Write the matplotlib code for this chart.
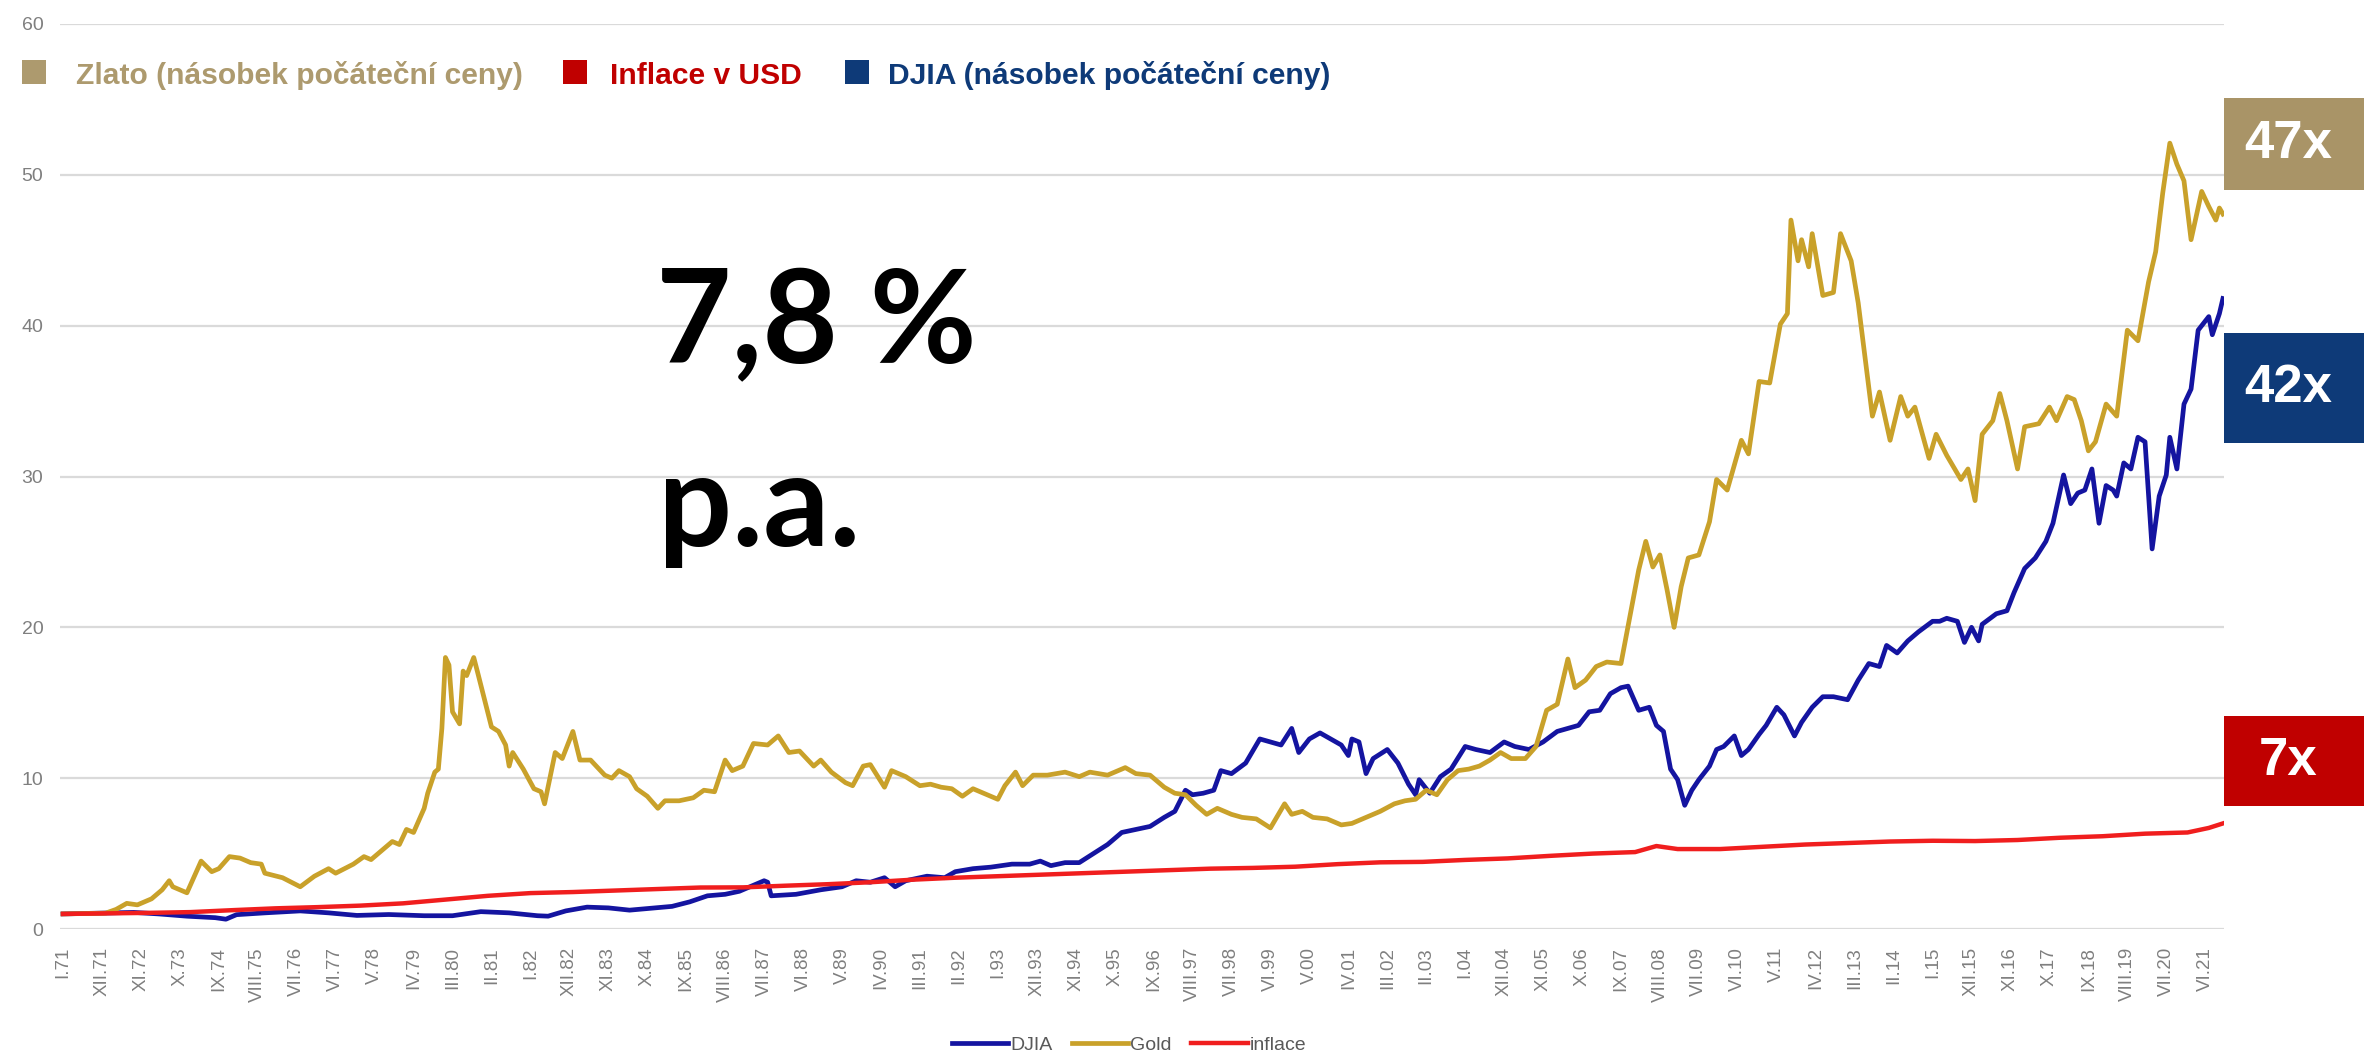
import numpy as np
import matplotlib.pyplot as plt
from matplotlib.patches import Rectangle

plt.rcParams['font.family'] = ['Liberation Sans', 'DejaVu Sans']

# months counted from I.1971, values = multiple of the starting price
gold_month = [
    0, 12, 15, 18, 21, 25, 28, 30, 31, 35,
    39, 42, 44, 47, 50, 53, 56, 57, 62, 67,
    71, 75, 77, 82, 85, 87, 90, 93, 95, 97,
    99, 102, 103, 105, 106, 107, 108, 109, 110, 112,
    113, 114, 116, 117, 121, 123, 125, 126, 127, 130,
    133, 135, 136, 139, 141, 144, 146, 149, 153, 155,
    157, 160, 162, 165, 168, 170, 174, 178, 181, 184,
    187, 189, 192, 195, 199, 202, 205, 208, 212, 214,
    217, 221, 223, 226, 228, 232, 234, 238, 242, 245,
    248, 251, 254, 257, 260, 264, 266, 269, 271, 274,
    278, 283, 287, 290, 295, 300, 303, 307, 311, 314,
    317, 320, 323, 326, 330, 333, 337, 341, 345, 347,
    350, 353, 357, 361, 364, 368, 372, 376, 379, 382,
    385, 388, 391, 394, 397, 400, 403, 406, 409, 413,
    416, 419, 422, 425, 427, 430, 433, 436, 440, 443,
    445, 447, 449, 451, 453, 455, 457, 459, 462, 465,
    467, 470, 474, 476, 479, 482, 485, 487, 488, 490,
    491, 493, 494, 497, 500, 502, 505, 507, 511, 513,
    516, 519, 521, 523, 527, 529, 532, 536, 538, 540,
    542, 545, 547, 549, 552, 554, 558, 561, 563, 566,
    568, 570, 572, 574, 577, 580, 583, 586, 589, 591,
    593, 595, 597, 599, 601, 604, 606, 608, 609, 610,
]
gold_value = [
    1.0, 1.05, 1.3, 1.7, 1.6, 2.0, 2.6, 3.2, 2.8, 2.4,
    4.5, 3.8, 4.0, 4.8, 4.7, 4.4, 4.3, 3.7, 3.4, 2.8,
    3.5, 4.0, 3.7, 4.3, 4.8, 4.6, 5.2, 5.8, 5.6, 6.6,
    6.4, 8.0, 9.0, 10.4, 10.6, 13.3, 18.0, 17.5, 14.4, 13.6,
    17.1, 16.8, 18.0, 17.1, 13.4, 13.1, 12.2, 10.8, 11.7, 10.6,
    9.3, 9.1, 8.3, 11.7, 11.3, 13.1, 11.2, 11.2, 10.2, 10.0,
    10.5, 10.1, 9.3, 8.8, 8.0, 8.5, 8.5, 8.7, 9.2, 9.1,
    11.2, 10.5, 10.8, 12.3, 12.2, 12.8, 11.7, 11.8, 10.8, 11.2,
    10.4, 9.7, 9.5, 10.8, 10.9, 9.4, 10.5, 10.1, 9.5, 9.6,
    9.4, 9.3, 8.8, 9.3, 9.0, 8.6, 9.5, 10.4, 9.5, 10.2,
    10.2, 10.4, 10.1, 10.4, 10.2, 10.7, 10.3, 10.2, 9.4, 9.0,
    8.9, 8.2, 7.6, 8.0, 7.6, 7.4, 7.3, 6.7, 8.3, 7.6,
    7.8, 7.4, 7.3, 6.9, 7.0, 7.4, 7.8, 8.3, 8.5, 8.6,
    9.2, 8.9, 9.9, 10.5, 10.6, 10.8, 11.2, 11.7, 11.3, 11.3,
    12.1, 14.5, 14.9, 17.9, 16.0, 16.5, 17.4, 17.7, 17.6, 21.3,
    23.8, 25.7, 24.0, 24.8, 22.5, 20.0, 22.7, 24.6, 24.8, 27.0,
    29.8, 29.1, 32.4, 31.5, 36.3, 36.2, 40.1, 40.8, 47.0, 44.3,
    45.7, 43.9, 46.1, 42.0, 42.2, 46.1, 44.3, 41.5, 34.0, 35.6,
    32.4, 35.3, 34.0, 34.6, 31.2, 32.8, 31.4, 29.8, 30.5, 28.4,
    32.8, 33.7, 35.5, 33.7, 30.5, 33.3, 33.5, 34.6, 33.7, 35.3,
    35.1, 33.7, 31.7, 32.3, 34.8, 34.0, 39.7, 39.0, 42.9, 44.9,
    48.8, 52.1, 50.7, 49.6, 45.7, 48.9, 47.9, 47.0, 47.8, 47.4,
]

djia_month = [
    0, 10, 20, 27, 35, 43, 46, 49, 57, 67,
    75, 83, 92, 102, 110, 118, 126, 134, 137, 142,
    148, 154, 160, 167, 172, 177, 182, 187, 191, 194,
    198, 199, 200, 207, 214, 220, 224, 228, 232, 235,
    238, 244, 249, 252, 257, 262, 268, 273, 276, 279,
    283, 287, 291, 295, 299, 303, 307, 311, 314, 317,
    319, 322, 325, 327, 330, 334, 338, 341, 344, 347,
    349, 352, 355, 358, 361, 363, 364, 366, 368, 370,
    374, 377, 380, 382, 383, 386, 389, 392, 396, 399,
    403, 407, 410, 414, 418, 422, 425, 428, 431, 434,
    437, 440, 442, 445, 448, 450, 452, 454, 456, 458,
    460, 462, 465, 467, 469, 472, 474, 476, 479, 481,
    484, 486, 489, 491, 494, 497, 500, 504, 507, 510,
    513, 515, 518, 521, 524, 528, 530, 532, 535, 537,
    539, 541, 542, 546, 549, 551, 554, 557, 560, 562,
    565, 567, 569, 571, 573, 575, 577, 579, 580, 582,
    584, 586, 588, 590, 592, 594, 595, 597, 599, 601,
    603, 606, 607, 609, 610,
]
djia_value = [
    1.0, 1.05, 1.1, 1.0, 0.85, 0.75, 0.65, 0.95, 1.07, 1.2,
    1.07, 0.9, 0.96, 0.88, 0.88, 1.15, 1.07, 0.88, 0.85, 1.2,
    1.45, 1.4, 1.25, 1.4, 1.5, 1.8, 2.2, 2.3, 2.5, 2.8,
    3.2, 3.1, 2.2, 2.3, 2.6, 2.8, 3.2, 3.1, 3.4, 2.8,
    3.2, 3.5, 3.4, 3.8, 4.0, 4.1, 4.3, 4.3, 4.5, 4.2,
    4.4, 4.4, 5.0, 5.6, 6.4, 6.6, 6.8, 7.4, 7.8, 9.2,
    8.9, 9.0, 9.2, 10.5, 10.3, 11.0, 12.6, 12.4, 12.2, 13.3,
    11.7, 12.6, 13.0, 12.6, 12.2, 11.5, 12.6, 12.4, 10.3, 11.3,
    11.9, 11.0, 9.6, 8.9, 9.9, 9.0, 10.1, 10.6, 12.1, 11.9,
    11.7, 12.4, 12.1, 11.9, 12.4, 13.1, 13.3, 13.5, 14.4, 14.5,
    15.6, 16.0, 16.1, 14.5, 14.7, 13.5, 13.1, 10.6, 9.9, 8.2,
    9.2, 9.9, 10.8, 11.9, 12.1, 12.8, 11.5, 11.9, 12.9, 13.5,
    14.7, 14.2, 12.8, 13.7, 14.7, 15.4, 15.4, 15.2, 16.5, 17.6,
    17.4, 18.8, 18.3, 19.1, 19.7, 20.4, 20.4, 20.6, 20.4, 19.0,
    20.0, 19.1, 20.2, 20.9, 21.1, 22.3, 23.9, 24.6, 25.7, 26.9,
    30.1, 28.2, 28.9, 29.1, 30.5, 26.9, 29.4, 29.1, 28.7, 30.9,
    30.5, 32.6, 32.3, 25.2, 28.7, 30.1, 32.6, 30.5, 34.8, 35.8,
    39.7, 40.6, 39.4, 40.8, 41.8,
]

infl_month = [
    0, 24, 36, 48, 60, 72, 84, 96, 108, 120,
    132, 144, 156, 168, 180, 192, 204, 216, 228, 240,
    252, 264, 276, 288, 300, 312, 324, 336, 348, 360,
    372, 384, 396, 408, 420, 432, 444, 450, 456, 468,
    480, 492, 504, 516, 528, 540, 552, 564, 576, 588,
    600, 606, 610,
]
infl_value = [
    1.0, 1.07, 1.12, 1.25, 1.37, 1.45, 1.55, 1.7, 1.95, 2.2,
    2.38, 2.45, 2.55, 2.65, 2.75, 2.76, 2.87, 2.97, 3.1, 3.27,
    3.4, 3.5, 3.6, 3.7, 3.8, 3.9, 4.0, 4.05, 4.13, 4.3,
    4.42, 4.45, 4.58, 4.68, 4.85, 5.0, 5.1, 5.5, 5.3, 5.3,
    5.45, 5.6, 5.7, 5.8, 5.85, 5.83, 5.9, 6.05, 6.15, 6.32,
    6.4, 6.7, 7.0,
]

# one label every 11 months
tick_labels = [
    'I.71', 'XII.71', 'XI.72', 'X.73', 'IX.74', 'VIII.75', 'VII.76', 'VI.77',
    'V.78', 'IV.79', 'III.80', 'II.81', 'I.82', 'XII.82', 'XI.83', 'X.84',
    'IX.85', 'VIII.86', 'VII.87', 'VI.88', 'V.89', 'IV.90', 'III.91', 'II.92',
    'I.93', 'XII.93', 'XI.94', 'X.95', 'IX.96', 'VIII.97', 'VII.98', 'VI.99',
    'V.00', 'IV.01', 'III.02', 'II.03', 'I.04', 'XII.04', 'XI.05', 'X.06',
    'IX.07', 'VIII.08', 'VII.09', 'VI.10', 'V.11', 'IV.12', 'III.13', 'II.14',
    'I.15', 'XII.15', 'XI.16', 'X.17', 'IX.18', 'VIII.19', 'VII.20', 'VI.21',
]

end_labels = ['47x', '42x', '7x']

W, H = 2364, 1057
def fx(px):
    return px / W
def fy(py):
    return 1 - py / H

fig = plt.figure(figsize=(W / 100, H / 100), dpi=100)
ax = fig.add_axes([fx(60), fy(929), fx(2224) - fx(60), fy(24) - fy(929)])

l1, = ax.plot(djia_month, djia_value, color='#1414A0', lw=3.4, label='DJIA')
l2, = ax.plot(gold_month, gold_value, color='#C9A12A', lw=3.4, label='Gold')
l3, = ax.plot(infl_month, infl_value, color='#F01E1E', lw=3.2, label='inflace')

ax.set_xlim(-0.85, 610.3)
ax.set_ylim(0, 60)
ax.set_yticks(np.arange(0, 61, 10))
ax.set_xticks(np.arange(len(tick_labels)) * 11)
ax.set_xticklabels(tick_labels, rotation=90)
ax.grid(axis='y', color='#DADADA', lw=1.6)
ax.set_axisbelow(True)
for s in ax.spines.values():
    s.set_visible(False)
ax.tick_params(axis='x', length=0, pad=13, labelsize=13.5, labelcolor='#7F7F7F')
ax.tick_params(axis='y', length=0, pad=12, labelsize=14, labelcolor='#7F7F7F')

# bottom legend
fig.legend(handles=[l1, l2, l3], loc='center', bbox_to_anchor=(fx(1129), fy(1045)),
           ncol=3, frameon=False, fontsize=14, labelcolor='#595959',
           handlelength=2.9, handletextpad=0.1, columnspacing=1.0,
           borderpad=0, borderaxespad=0)

# top legend with coloured squares
top_items = [
    (22, 76, '#AD9A6E', 'Zlato (násobek počáteční ceny)'),
    (563, 610, '#C00000', 'Inflace v USD'),
    (845, 888, '#0E3A78', 'DJIA (násobek počáteční ceny)'),
]
for x0, xt, col, txt in top_items:
    fig.add_artist(Rectangle((fx(x0), fy(84)), fx(24), fy(60) - fy(84),
                             transform=fig.transFigure, color=col, lw=0))
    fig.text(fx(xt), fy(84), txt, color=col, fontsize=21.6,
             fontweight='bold', va='baseline', ha='left')

# boxes with final multiples
box_rows = [(98, 190, '#A99467'), (333, 443, '#0E3A78'), (716, 806, '#C00000')]
for (top, bot, col), lab in zip(box_rows, end_labels):
    fig.add_artist(Rectangle((fx(2224), fy(bot)), fx(W - 2224), fy(top) - fy(bot),
                             transform=fig.transFigure, color=col, lw=0))
    fig.text(fx(2288), fy((top + bot) / 2), lab, color='white', fontsize=38,
             fontweight='bold', ha='center', va='center')

# big annotation
fig.text(fx(656), fy(363), '7,8 %', family=['Lato', 'DejaVu Sans'],
         fontweight='bold', fontsize=94, va='baseline', ha='left')
fig.text(fx(658), fy(546), 'p.a.', family=['Lato', 'DejaVu Sans'],
         fontweight='bold', fontsize=94, va='baseline', ha='left')

fig.savefig('out.png', dpi=100)
